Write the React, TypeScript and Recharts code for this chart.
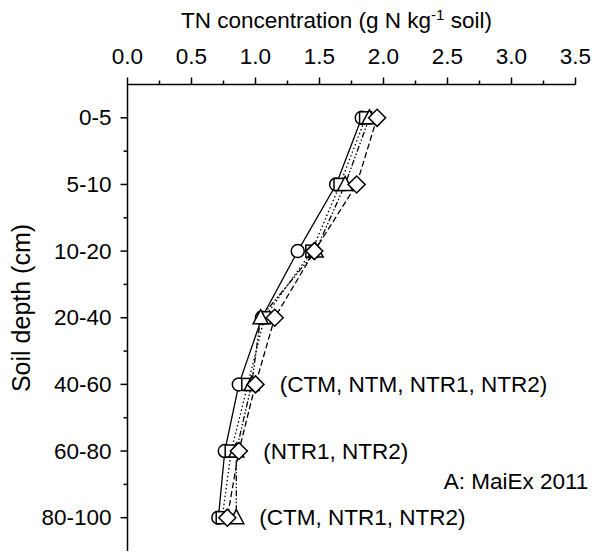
import { ScatterChart, Scatter, XAxis, YAxis, ReferenceDot } from "recharts";

const FONT = '"Liberation Sans", Arial, sans-serif';
const FS = 22.5;

// soil depth layers (cm), top to bottom
const depths = ["0-5", "5-10", "10-20", "20-40", "40-60", "60-80", "80-100"];

// TN concentration (g N kg-1 soil)
const ctm = [1.83, 1.63, 1.33, 1.05, 0.87, 0.76, 0.71];
const ntm = [1.86, 1.66, 1.44, 1.07, 0.94, 0.81, 0.74];
const ntr1 = [1.89, 1.7, 1.47, 1.04, 0.97, 0.85, 0.85];
const ntr2 = [1.95, 1.79, 1.46, 1.15, 1.0, 0.87, 0.78];

const xTicks = [0, 0.25, 0.5, 0.75, 1, 1.25, 1.5, 1.75, 2, 2.25, 2.5, 2.75, 3, 3.25, 3.5];
const yTicks = [0, 0.5, 1, 1.5, 2, 2.5, 3, 3.5, 4, 4.5, 5, 5.5, 6];

// significance notes, [row, x position, text]
const notes: [number, number, string][] = [
  [4, 1.19, "(CTM, NTM, NTR1, NTR2)"],
  [5, 1.06, "(NTR1, NTR2)"],
  [6, 1.03, "(CTM, NTR1, NTR2)"],
];

const toPoints = (vals: number[]) => vals.map((v, i) => ({ x: v, y: i }));

const stroke = "#000";

function XTick({ x, y, payload }: any) {
  const major = Math.abs(payload.value * 2 - Math.round(payload.value * 2)) < 1e-6;
  return (
    <g>
      <line x1={x} x2={x} y1={y} y2={y - (major ? 7 : 4)} stroke={stroke} strokeWidth={1.5} />
      {major && (
        <text x={x} y={y - 21} textAnchor="middle" fontSize={FS} fontFamily={FONT} fill="#000">
          {payload.value.toFixed(1)}
        </text>
      )}
    </g>
  );
}

function YTick({ x, y, payload }: any) {
  const major = Number.isInteger(payload.value);
  return (
    <g>
      <line x1={x} x2={x - (major ? 7 : 4)} y1={y} y2={y} stroke={stroke} strokeWidth={1.5} />
      {major && (
        <text x={x - 16} y={y} textAnchor="end" dominantBaseline="central" fontSize={FS} fontFamily={FONT} fill="#000">
          {depths[payload.value]}
        </text>
      )}
    </g>
  );
}

const Circle = ({ cx, cy }: any) => (
  <circle cx={cx} cy={cy} r={6.5} fill="#fff" stroke={stroke} strokeWidth={1.5} />
);
const Square = ({ cx, cy }: any) => (
  <rect x={cx - 6} y={cy - 6} width={12} height={12} fill="#fff" stroke={stroke} strokeWidth={1.5} />
);
const Triangle = ({ cx, cy }: any) => (
  <path d={`M${cx},${cy - 8} L${cx + 7.5},${cy + 6} L${cx - 7.5},${cy + 6} Z`} fill="#fff" stroke={stroke} strokeWidth={1.5} />
);
const Diamond = ({ cx, cy }: any) => (
  <path d={`M${cx},${cy - 8.5} L${cx + 8.5},${cy} L${cx},${cy + 8.5} L${cx - 8.5},${cy} Z`} fill="#fff" stroke={stroke} strokeWidth={1.5} />
);

const Note = (text: string, anchor: "start" | "end") => ({ cx, cy }: any) => (
  <text x={cx} y={cy} textAnchor={anchor} dominantBaseline="central" fontSize={FS} fontFamily={FONT} fill="#000">
    {text}
  </text>
);

export default function App() {
  return (
    <div style={{ position: "absolute", left: 0, top: 0, width: 597, height: 552, background: "#fff" }}>
      <div
        style={{
          position: "absolute",
          left: 181,
          top: 6,
          fontFamily: FONT,
          fontSize: FS,
          whiteSpace: "nowrap",
          lineHeight: "30px",
        }}
      >
        TN concentration (g N kg<sup style={{ fontSize: 15, lineHeight: 0 }}>-1</sup> soil)
      </div>
      <div
        style={{
          position: "absolute",
          left: 21,
          top: 308,
          transform: "translate(-50%, -50%) rotate(-90deg)",
          fontFamily: FONT,
          fontSize: 25,
          whiteSpace: "nowrap",
        }}
      >
        Soil depth (cm)
      </div>
      <ScatterChart width={597} height={552} margin={{ top: 0, right: 21.5, bottom: 1, left: 0 }}>
        <XAxis
          type="number"
          dataKey="x"
          orientation="top"
          domain={[0, 3.5]}
          ticks={xTicks}
          interval={0}
          height={84.5}
          tickSize={0}
          tickMargin={0}
          tickLine={false}
          tick={XTick}
          axisLine={{ stroke, strokeWidth: 1.5 }}
        />
        <YAxis
          type="number"
          dataKey="y"
          domain={[-0.5, 6.5]}
          reversed
          ticks={yTicks}
          interval={0}
          width={127.5}
          tickSize={0}
          tickMargin={0}
          tickLine={false}
          tick={YTick}
          axisLine={{ stroke, strokeWidth: 1.5 }}
        />
        <Scatter data={toPoints(ctm)} shape={Circle} line={{ stroke, strokeWidth: 1.3 }} isAnimationActive={false} />
        <Scatter data={toPoints(ntm)} shape={Square} line={{ stroke, strokeWidth: 1.3, strokeDasharray: "1.5 2.5" }} isAnimationActive={false} />
        <Scatter data={toPoints(ntr1)} shape={Triangle} line={{ stroke, strokeWidth: 1.3, strokeDasharray: "6 2 1.5 2 1.5 2" }} isAnimationActive={false} />
        <Scatter data={toPoints(ntr2)} shape={Diamond} line={{ stroke, strokeWidth: 1.3, strokeDasharray: "6 3" }} isAnimationActive={false} />
        {notes.map(([row, x, text]) => (
          <ReferenceDot key={text} x={x} y={row} r={0} ifOverflow="visible" shape={Note(text, "start")} />
        ))}
        <ReferenceDot x={3.6} y={5.45} r={0} ifOverflow="visible" shape={Note("A: MaiEx 2011", "end")} />
      </ScatterChart>
    </div>
  );
}
